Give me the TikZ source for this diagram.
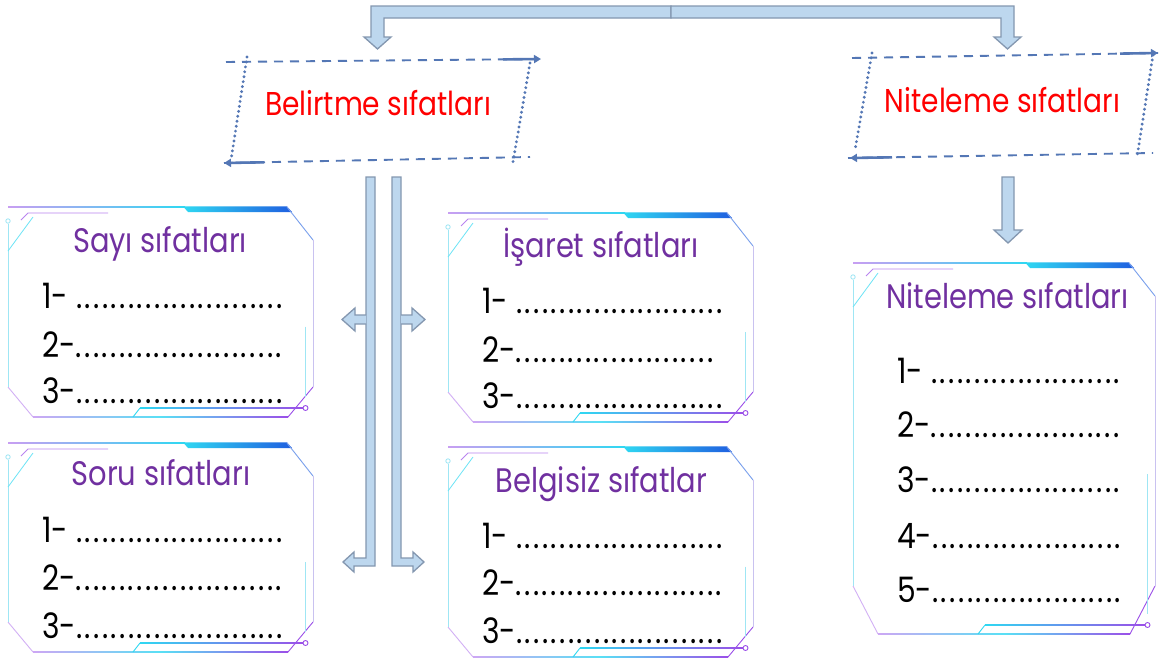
\documentclass[tikz,border=0pt]{standalone}
\usepackage{fontspec}
\setmainfont{Poppins}[FakeStretch=0.85]
\newfontfamily\dotfont{Poppins}[FakeStretch=0.85,LetterSpace=7]
\usetikzlibrary{arrows.meta}
\definecolor{titlered}{HTML}{FF0000}
\definecolor{titlepurple}{HTML}{7030A0}
\definecolor{arrowfill}{HTML}{BDD7EE}
\definecolor{arrowdraw}{HTML}{8497B0}
\definecolor{boxblue}{HTML}{5477B5}
\definecolor{fpurple}{HTML}{9B4FE8}
\definecolor{fcyan}{HTML}{2FD8F2}
\definecolor{fblue}{HTML}{1F5FE0}
\definecolor{flav}{HTML}{C9C2F0}
\definecolor{fltcyan}{HTML}{9FE6F4}
\newcommand{\dl}[1]{{\dotfont #1}}
\tikzset{
  redtitle/.style={text=titlered, font=\fontsize{33}{36}\selectfont, inner sep=0pt, anchor=base},
  ptitle/.style={text=titlepurple, font=\fontsize{34}{38}\selectfont, inner sep=0pt, anchor=base},
  fillline/.style={text=black, font=\fontsize{35}{38}\selectfont, inner sep=0pt, anchor=base west},
  blockarrow/.style={fill=arrowfill, draw=arrowdraw, line width=1.3pt, line join=miter},
  dashedge/.style={draw=boxblue, line width=1.9pt, dash pattern=on 9pt off 7pt},
  dotedge/.style={draw=boxblue, line width=3.2pt, dash pattern=on 0pt off 5pt, line cap=round},
  brush/.style={draw=boxblue, line width=2.6pt, -{Triangle[length=7pt,width=8pt]}},
  pics/techframe/.style n args={3}{code={
    \shade[left color=fpurple!55, right color=fcyan] (0,-0.6) rectangle (#1-128,0.6);
    \shade[left color=fcyan, right color=fblue] (#1-130,-0.6) -- (#1-26,-0.6) -- (#1-21,5) -- (#1-125,5) -- cycle;
    \draw[fblue!60, line width=0.9pt] (#1-26,0) -- (#1,33);
    \draw[flav, line width=0.9pt] (#1,33) -- (#1,#2-#3);
    \draw[fpurple, line width=0.9pt] (#1,#2-#3) -- (#1-25,#2);
    \shade[left color=fpurple!50, right color=fpurple, middle color=fcyan!80] (25,#2-0.6) rectangle (#1-25,#2+0.6);
    \draw[fpurple!45, line width=0.9pt] (25,#2) -- (0,#2-#3);
    \draw[fltcyan, line width=0.9pt] (0,#2-#3) -- (0,17);
    \draw[fltcyan, line width=0.8pt] (0,14) circle (2.2pt);
    \draw[fcyan!70, line width=0.8pt] (0,44) -- (25,10);
    \draw[fpurple!70, line width=0.9pt] (13,13) -- (20,6) -- (100,6);
    \draw[fltcyan, line width=0.9pt] (#1-8,0.57*#2) -- (#1-8,#2-20);
    \draw[fcyan, line width=0.9pt] (125,#2) -- (132,#2-9);
    \shade[left color=fcyan, right color=fpurple] (132,#2-9.6) rectangle (#1-10,#2-8.4);
    \draw[fpurple, line width=0.9pt] (#1-7.5,#2-9) circle (2.5pt);
  }}
}
\begin{document}
\begin{tikzpicture}[x=1pt,y=-1pt]
\fill[white] (0,0) rectangle (1159,659);
\useasboundingbox (0,0) rectangle (1159,659);

% top connector (split hollow arrows)
\coordinate (split) at (671,12);
\draw[blockarrow] (671,6) -- (371,6) -- (371,37) -- (364,37) -- (377.5,49) -- (391,37) -- (384,37) -- (384,18) -- (671,18) -- cycle;
\draw[blockarrow] (671,6) -- (1014,6) -- (1014,37) -- (1021,37) -- (1007.5,49) -- (994,37) -- (1001,37) -- (1001,18) -- (671,18) -- cycle;

% Belirtme box
\draw[dashedge] (226,62) -- (541,59);
\draw[dashedge] (224,163) -- (530,157);
\draw[dotedge] (247,57) -- (231,160);
\draw[dotedge] (530,63) -- (513,162);
\draw[brush] (503,59.4) -- (541,59);
\draw[brush] (264,162.3) -- (224,163);
\node[redtitle] (bel) at (378,115) {Belirtme sıfatları};

% Niteleme box
\draw[dashedge] (852,58) -- (1158,53);
\draw[dashedge] (848,158) -- (1153,153);
\draw[dotedge] (872,53) -- (855,150);
\draw[dotedge] (1153,55) -- (1137,157);
\draw[brush] (1120,53.6) -- (1158,53);
\draw[brush] (892,157.3) -- (850,158);
\node[redtitle] (nit) at (1002.5,112) {Niteleme sıfatları};

% double bars
\draw[blockarrow] (366,177) -- (375,177) -- (375,566) -- (354,566) -- (354,572) -- (343,562) -- (354,552) -- (354,558) -- (366,558) -- cycle;
\draw[blockarrow] (401,177) -- (392,177) -- (392,566) -- (413,566) -- (413,572) -- (424,562) -- (413,552) -- (413,558) -- (401,558) -- cycle;
\draw[blockarrow] (366,315) -- (355,315) -- (355,308) -- (342,319.5) -- (355,331) -- (355,324) -- (366,324);
\draw[blockarrow] (401,315) -- (412,315) -- (412,308) -- (425,319.5) -- (412,331) -- (412,324) -- (401,324);

% Niteleme down arrow
\draw[blockarrow] (1002,177) -- (1014,177) -- (1014,230) -- (1022,230) -- (1008,243) -- (994,230) -- (1002,230) -- cycle;

% frames
\pic at (8,207) {techframe={305}{210}{30}};
\pic at (448,213) {techframe={305}{209}{30}};
\pic at (8,443) {techframe={305}{209}{30}};
\pic at (448,447) {techframe={305}{210}{30}};
\pic at (853,263) {techframe={302}{371}{48}};

% Sayı
\node[ptitle] (sayi) at (160,252) {Sayı sıfatları};
\node[fillline] (sayi1) at (42,308) {1- \dl{........................}};
\node[fillline] (sayi2) at (42,357) {2-\dl{........................}};
\node[fillline] (sayi3) at (42,403) {3-\dl{........................}};
% Soru
\node[ptitle] (soru) at (161,485) {Soru sıfatları};
\node[fillline] (soru1) at (42,542) {1- \dl{........................}};
\node[fillline] (soru2) at (42,590) {2-\dl{........................}};
\node[fillline] (soru3) at (42,638) {3-\dl{........................}};
% İşaret
\node[ptitle] (isaret) at (601,257) {İşaret sıfatları};
\node[fillline] (isaret1) at (482,313) {1- \dl{........................}};
\node[fillline] (isaret2) at (482,362) {2-\dl{.......................}};
\node[fillline] (isaret3) at (482,408) {3-\dl{........................}};
% Belgisiz
\node[ptitle] (belg) at (601.5,492) {Belgisiz sıfatlar};
\node[fillline] (belg1) at (482,548) {1- \dl{........................}};
\node[fillline] (belg2) at (482,595) {2-\dl{........................}};
\node[fillline] (belg3) at (482,643) {3-\dl{........................}};
% Niteleme panel
\node[ptitle] (nitp) at (1007.5,308) {Niteleme sıfatları};
\node[fillline] (nitp1) at (897,383) {1- \dl{......................}};
\node[fillline] (nitp2) at (897,437) {2-\dl{......................}};
\node[fillline] (nitp3) at (897,492) {3-\dl{......................}};
\node[fillline] (nitp4) at (897,548) {4-\dl{......................}};
\node[fillline] (nitp5) at (897,602) {5-\dl{......................}};
\end{tikzpicture}
\end{document}
